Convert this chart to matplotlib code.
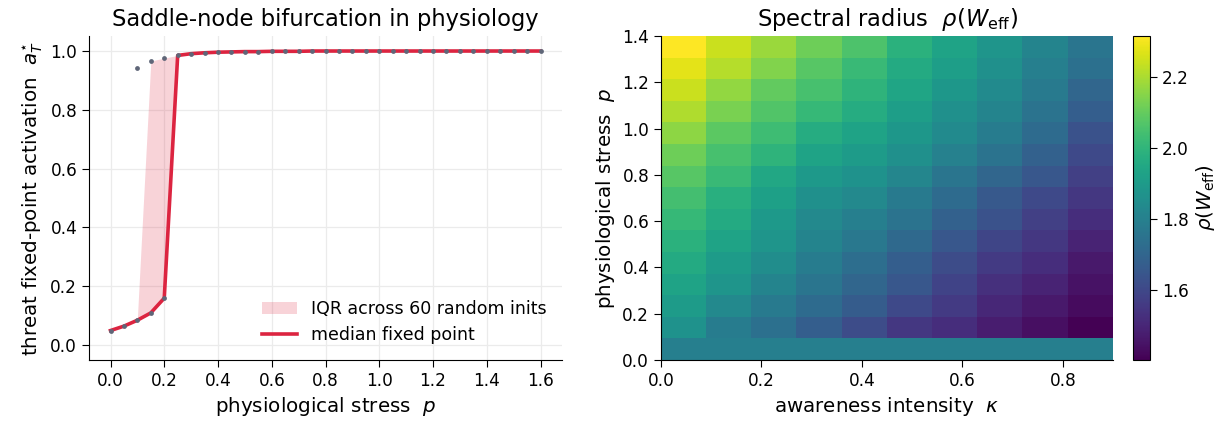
import numpy as np
import matplotlib
matplotlib.use("Agg")
import matplotlib.pyplot as plt
from matplotlib.patches import Patch
from matplotlib.lines import Line2D

# ---------------- data: left panel ----------------
p_vals = [0.00, 0.05, 0.10, 0.15, 0.20, 0.25, 0.30, 0.35, 0.40, 0.45, 0.50,
          0.55, 0.60, 0.65, 0.70, 0.75, 0.80, 0.85, 0.90, 0.95, 1.00, 1.05,
          1.10, 1.15, 1.20, 1.25, 1.30, 1.35, 1.40, 1.45, 1.50, 1.55, 1.60]
median_a = [0.050, 0.065, 0.085, 0.110, 0.160, 0.984, 0.990, 0.993, 0.995,
            0.996, 0.997, 0.997, 0.998, 0.998, 0.998, 0.999, 0.999, 0.999,
            0.999, 0.999, 0.999, 0.999, 0.999, 0.999, 0.999, 0.999, 0.999,
            0.999, 0.999, 0.999, 0.999, 0.999, 0.999]
q25_a = list(median_a)
q75_a = [0.050, 0.065, 0.092, 0.965, 0.975, 0.984, 0.990, 0.993, 0.995,
         0.996, 0.997, 0.997, 0.998, 0.998, 0.998, 0.999, 0.999, 0.999,
         0.999, 0.999, 0.999, 0.999, 0.999, 0.999, 0.999, 0.999, 0.999,
         0.999, 0.999, 0.999, 0.999, 0.999, 0.999]
# fixed points of individual runs that landed on the other branch
alt_p = [0.10, 0.15, 0.20]
alt_a = [0.943, 0.965, 0.977]

# ---------------- data: right panel ----------------
kappa_vals = [0.0, 0.1, 0.2, 0.3, 0.4, 0.5, 0.6, 0.7, 0.8, 0.9]
p_grid = [0.0, 0.1, 0.2, 0.3, 0.4, 0.5, 0.6, 0.7, 0.8, 0.9, 1.0, 1.1, 1.2, 1.3, 1.4]
rho_rows = [  # rows from p = 0.0 (bottom) to p = 1.4 (top)
    [1.795, 1.795, 1.795, 1.795, 1.795, 1.795, 1.795, 1.795, 1.795, 1.795],
    [1.868, 1.786, 1.740, 1.676, 1.613, 1.549, 1.521, 1.476, 1.439, 1.403],
    [1.904, 1.831, 1.777, 1.722, 1.667, 1.603, 1.558, 1.503, 1.467, 1.430],
    [1.931, 1.877, 1.813, 1.758, 1.704, 1.649, 1.585, 1.531, 1.494, 1.449],
    [1.959, 1.904, 1.849, 1.786, 1.731, 1.676, 1.613, 1.558, 1.521, 1.467],
    [1.986, 1.931, 1.877, 1.813, 1.767, 1.713, 1.649, 1.594, 1.549, 1.494],
    [2.013, 1.959, 1.895, 1.831, 1.795, 1.749, 1.685, 1.631, 1.576, 1.521],
    [2.041, 1.977, 1.922, 1.859, 1.831, 1.777, 1.722, 1.658, 1.603, 1.549],
    [2.077, 2.022, 1.950, 1.895, 1.868, 1.822, 1.758, 1.704, 1.649, 1.576],
    [2.114, 2.050, 1.995, 1.931, 1.904, 1.859, 1.804, 1.749, 1.685, 1.603],
    [2.159, 2.086, 2.032, 1.968, 1.931, 1.886, 1.840, 1.786, 1.722, 1.631],
    [2.205, 2.132, 2.068, 2.013, 1.968, 1.913, 1.859, 1.813, 1.749, 1.676],
    [2.241, 2.168, 2.095, 2.050, 1.995, 1.940, 1.886, 1.840, 1.777, 1.704],
    [2.278, 2.214, 2.141, 2.077, 2.022, 1.959, 1.913, 1.859, 1.795, 1.740],
    [2.314, 2.241, 2.177, 2.114, 2.059, 1.986, 1.931, 1.877, 1.813, 1.758],
]

# ---------------- style ----------------
plt.rcParams.update({
    "font.family": ["DejaVu Sans"],
    "font.size": 12,
    "axes.titlesize": 16.3,
    "axes.labelsize": 14.3,
    "xtick.labelsize": 12.2,
    "ytick.labelsize": 12.2,
    "legend.fontsize": 12.5,
    "xtick.major.size": 5,
    "ytick.major.size": 5,
})

RED = "#dc2440"
DOT = "#5f6678"

fig = plt.figure(figsize=(12.28, 4.28), dpi=100)
ax1 = fig.add_axes([89 / 1228, 68 / 428, 473 / 1228, 324 / 428])
ax2 = fig.add_axes([661 / 1228, 68 / 428, 452 / 1228, 324 / 428])
cax = fig.add_axes([1133 / 1228, 68 / 428, 17 / 1228, 324 / 428])

# ---------- left panel ----------
ax1.fill_between(p_vals, q25_a, q75_a, color=RED, alpha=0.2, linewidth=0, zorder=1)
ax1.plot(p_vals, median_a, color=RED, lw=2.6, zorder=2)
ax1.scatter(p_vals, median_a, s=12, color=DOT, zorder=3, linewidths=0)
ax1.scatter(alt_p, alt_a, s=12, color=DOT, zorder=3, linewidths=0)
ax1.set_ylim(-0.05, 1.05)
ax1.set_xticks(np.arange(0, 1.61, 0.2))
ax1.set_yticks(np.arange(0, 1.01, 0.2))
ax1.grid(True, color="#ebebeb", lw=0.9)
ax1.set_axisbelow(True)
for s in ("top", "right"):
    ax1.spines[s].set_visible(False)
ax1.set_title("Saddle-node bifurcation in physiology", pad=7)
ax1.set_xlabel("physiological stress  $p$")
ax1.set_ylabel(r"threat fixed-point activation  $a_T^{\star}$")
handles = [Patch(facecolor=RED, alpha=0.2, edgecolor="none"),
           Line2D([0], [0], color=RED, lw=2.6)]
ax1.legend(handles, ["IQR across 60 random inits", "median fixed point"],
           loc="lower right", frameon=False, handlelength=2.0)

# ---------- right panel ----------
rho = np.array(rho_rows)
im = ax2.imshow(rho, origin="lower", aspect="auto", cmap="viridis",
                extent=[min(kappa_vals), max(kappa_vals), min(p_grid), max(p_grid)],
                interpolation="nearest")
ax2.set_xticks(np.arange(0, 0.81, 0.2))
ax2.set_yticks(np.arange(0, 1.41, 0.2))
ax2.set_title(r"Spectral radius  $\rho(W_{\mathrm{eff}})$", pad=7)
ax2.set_xlabel(r"awareness intensity  $\kappa$")
ax2.set_ylabel("physiological stress  $p$")
for s in ("top", "right"):
    ax2.spines[s].set_visible(False)
cb = fig.colorbar(im, cax=cax)
cb.set_label(r"$\rho(W_{\mathrm{eff}})$")
cb.set_ticks([1.6, 1.8, 2.0, 2.2])

fig.savefig("out.png", dpi=100)
